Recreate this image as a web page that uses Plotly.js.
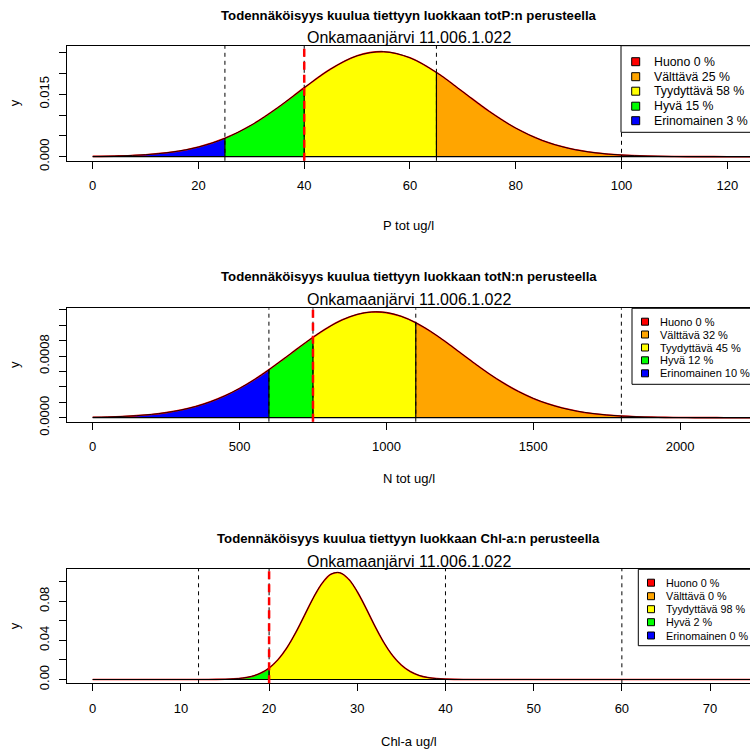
<!DOCTYPE html>
<html><head><meta charset="utf-8">
<script src="https://cdn.plot.ly/plotly-3.0.1.min.js"></script>
<style>body{margin:0;background:#fff}#c{width:750px;height:749px}</style>
</head><body><div id="c"></div>
<script>
// ---------- DATA ----------
const classNames = ["Huono", "Välttävä", "Tyydyttävä", "Hyvä", "Erinomainen"];
const lakeName = "Onkamaanjärvi 11.006.1.022";
const mainTitles = [
  "Todennäköisyys kuulua tiettyyn luokkaan totP:n perusteella",
  "Todennäköisyys kuulua tiettyyn luokkaan totN:n perusteella",
  "Todennäköisyys kuulua tiettyyn luokkaan Chl-a:n perusteella"
];
const xLabels = ["P tot ug/l", "N tot ug/l", "Chl-a ug/l"];
const yLabel = "y";

// totP density curve
const pX = [0,5,10,15,20,25,30,35,40,45,50,55,60,65,70,75,80,85,90,95,100,105,110,115,120,125];
const pY = [0.000066,0.000187,0.000479,0.00111,0.00233,0.00442,0.00759,0.01179,0.01657,0.02107,0.02425,0.02524,0.02377,0.02025,0.0156,0.01088,0.00687,0.00392,0.00202,0.000945,0.0004,0.000153,0.000053,0.0000165,0.000005,0.000001];
const pBounds = [25, 40, 65, 100];
const pObs = 40;
const pPct = [0, 25, 58, 15, 3];
const pXTicks = [0, 20, 40, 60, 80, 100, 120];
const pYTicks = [0, 0.005, 0.01, 0.015, 0.02, 0.025];
const pYTickText = ["0.000", "", "", "0.015", "", ""];

// totN density curve
const nX = [0,50,100,150,200,250,300,350,400,450,500,550,600,650,700,750,800,850,900,950,1000,1050,1100,1150,1200,1250,1300,1350,1400,1450,1500,1550,1600,1650,1700,1750,1800,1850,1900,1950,2000,2050,2100,2150,2200,2250];
const nY = [0.0000054,0.0000095,0.0000161,0.0000265,0.0000424,0.0000658,0.0000993,0.000145,0.000206,0.000284,0.000381,0.000494,0.000623,0.000763,0.000906,0.001045,0.00117,0.001272,0.001342,0.001374,0.001366,0.001318,0.001235,0.001123,0.000991,0.000849,0.000706,0.00057,0.000447,0.00034,0.000251,0.00018,0.000125,0.0000845,0.0000555,0.0000352,0.0000218,0.0000131,0.0000076,0.0000043,0.0000023,0.0000012,0.0000006,0.0000003,0.0000001,0.0000001];
const nBounds = [600, 750, 1100, 1800];
const nObs = 750;
const nPct = [0, 32, 45, 12, 10];
const nXTicks = [0, 500, 1000, 1500, 2000];
const nYTicks = [0, 0.0002, 0.0004, 0.0006, 0.0008, 0.001, 0.0012, 0.0014];
const nYTickText = ["0.0000", "", "", "", "0.0008", "", "", ""];

// Chl-a density curve
const cX = [0,5,10,12,13,14,15,16,17,18,19,20,21,22,23,24,25,26,27,28,29,30,31,32,33,34,35,36,37,38,39,40,41,42,43,44,45,50,55,60,65,70,75];
const cY = [0,0,0.0000008,0.00001,0.0000315,0.000092,0.000249,0.000626,0.00146,0.00315,0.0063,0.01171,0.02015,0.03217,0.04762,0.06539,0.08324,0.09827,0.1076,0.1092,0.1028,0.08976,0.07267,0.05455,0.03798,0.02451,0.01468,0.00814,0.00419,0.002,0.000886,0.000364,0.00014,0.0000485,0.0000155,0.0000045,0.0000012,0,0,0,0,0,0];
const cBounds = [12, 20, 40, 60];
const cObs = 20;
const cPct = [0, 0, 98, 2, 0];
const cXTicks = [0, 10, 20, 30, 40, 50, 60, 70];
const cYTicks = [0, 0.02, 0.04, 0.06, 0.08, 0.1];
const cYTickText = ["0.00", "", "0.04", "", "0.08", ""];

// ---------- STYLE / LAYOUT ----------
const classColors = ["#FF0000", "#FFA500", "#FFFF00", "#00FF00", "#0000FF"]; // Huono..Erinomainen
const W = 750, H = 749;
const FONT = "Liberation Sans, Arial, Helvetica, sans-serif";
const px = v => v / W;
const py = v => 1 - v / H;

const panels = [
  {X: pX, Y: pY, bounds: pBounds, obs: pObs, pct: pPct, xt: pXTicks, yt: pYTicks, ytt: pYTickText,
   top: 45.7, bottom: 160.8, xr: [-4.92, 124.3], yr: [-0.000986, 0.02668],
   titleY: 15, subY: 38, xlabY: 225,
   leg: {left: 621, top: 45.7, bottom: 132.3, sqX: 635.7, txtX: 651.5, items: [61.7, 76.7, 91.2, 106.2, 120.7], font: 12.3, sq: 8}},
  {X: nX, Y: nY, bounds: nBounds, obs: nObs, pct: nPct, xt: nXTicks, yt: nYTicks, ytt: nYTickText,
   top: 308.3, bottom: 421.7, xr: [-88.5, 2238], yr: [-0.000052, 0.001422],
   titleY: 276.5, subY: 300, xlabY: 478,
   leg: {left: 632, top: 308.3, bottom: 384.3, sqX: 645, txtX: 658.3, items: [321.7, 334.5, 347.5, 360.3, 373.3], font: 11, sq: 7}},
  {X: cX, Y: cY, bounds: cBounds, obs: cObs, pct: cPct, xt: cXTicks, yt: cYTicks, ytt: cYTickText,
   top: 569, bottom: 683.3, xr: [-2.95, 74.53], yr: [-0.00389, 0.11298],
   titleY: 538.3, subY: 561.5, xlabY: 741,
   leg: {left: 638.3, top: 569.3, bottom: 645.7, sqX: 651, txtX: 664.3, items: [582.7, 596.2, 609.2, 622.2, 635.5], font: 10.8, sq: 7}}
];

const traces = [];
const shapes = [];
const annotations = [];
const layout = {
  width: W, height: H, margin: {l: 0, r: 0, t: 0, b: 0},
  paper_bgcolor: "white", plot_bgcolor: "white", showlegend: false,
  font: {family: FONT, color: "black"}
};

panels.forEach((p, i) => {
  const sfx = i === 0 ? "" : String(i + 1);
  const xa = "x" + sfx, ya = "y" + sfx;
  layout["xaxis" + sfx] = {
    domain: [66.7 / W, 1], range: p.xr, anchor: ya, tickmode: "array", tickvals: p.xt,
    ticks: "outside", ticklen: 7, tickcolor: "black", tickwidth: 1,
    showline: true, mirror: true, linecolor: "black", linewidth: 1,
    showgrid: false, zeroline: false, tickfont: {size: 13, family: FONT, color: "black"},
    ticklabelstandoff: 6
  };
  layout["yaxis" + sfx] = {
    domain: [py(p.bottom), py(p.top)], range: p.yr, anchor: xa, tickmode: "array",
    tickvals: p.yt, ticktext: p.ytt, tickangle: -90,
    ticks: "outside", ticklen: 7, tickcolor: "black", tickwidth: 1,
    showline: true, mirror: true, linecolor: "black", linewidth: 1,
    showgrid: false, zeroline: false, tickfont: {size: 13, family: FONT, color: "black"},
    ticklabelstandoff: 5
  };

  // class regions (low -> high: Erinomainen, Hyvä, Tyydyttävä, Välttävä, Huono)
  const edges = [p.X[0], ...p.bounds, p.X[p.X.length - 1]];
  for (let k = 0; k < 5; k++) {
    const lo = edges[k], hi = edges[k + 1];
    const xs = [], ys = [];
    p.X.forEach((x, j) => { if (x >= lo && x <= hi) { xs.push(x); ys.push(p.Y[j]); } });
    traces.push({x: xs, y: ys, xaxis: xa, yaxis: ya, mode: "lines", fill: "tozeroy",
      fillcolor: classColors[4 - k], line: {width: 0, shape: "spline"}, hoverinfo: "skip"});
  }
  // curve outline: red under black
  traces.push({x: p.X, y: p.Y, xaxis: xa, yaxis: ya, mode: "lines",
    line: {color: "#FF0000", width: 1.6, shape: "spline"}, hoverinfo: "skip"});
  traces.push({x: p.X, y: p.Y, xaxis: xa, yaxis: ya, mode: "lines",
    line: {color: "black", width: 0.9, shape: "spline"}, hoverinfo: "skip"});

  // baseline of polygons
  shapes.push({type: "line", xref: xa, yref: ya, x0: p.X[0], x1: p.X[p.X.length - 1], y0: 0, y1: 0,
    line: {color: "black", width: 1.2}});
  // dashed class boundaries across full height
  p.bounds.forEach(b => {
    shapes.push({type: "line", xref: xa, yref: ya + " domain", x0: b, x1: b, y0: 0, y1: 1,
      line: {color: "black", width: 1, dash: "4px,4px"}});
    const yb = p.Y[p.X.indexOf(b)];
    shapes.push({type: "line", xref: xa, yref: ya, x0: b, x1: b, y0: 0, y1: yb,
      line: {color: "black", width: 1.2}});
  });
  // observed value (red dashed)
  shapes.push({type: "line", xref: xa, yref: ya + " domain", x0: p.obs, x1: p.obs, y0: 0, y1: 1,
    line: {color: "#FF0000", width: 2.5, dash: "8px,5px"}});

  // legend
  const L = p.leg;
  shapes.push({type: "rect", xref: "paper", yref: "paper", x0: px(L.left), x1: px(752),
    y0: py(L.bottom), y1: py(L.top), fillcolor: "white", line: {color: "black", width: 1}});
  classNames.forEach((nm, k) => {
    const cy = L.items[k];
    shapes.push({type: "rect", xref: "paper", yref: "paper",
      x0: px(L.sqX - L.sq / 2), x1: px(L.sqX + L.sq / 2), y0: py(cy + L.sq / 2), y1: py(cy - L.sq / 2),
      fillcolor: classColors[k], line: {color: "black", width: 1}});
    annotations.push({xref: "paper", yref: "paper", x: px(L.txtX), y: py(cy), xanchor: "left", yanchor: "middle",
      text: nm + " " + p.pct[k] + " %", showarrow: false, font: {size: L.font, family: FONT, color: "black"}});
  });

  // titles
  const cx = px((66.7 + 751) / 2);
  annotations.push({xref: "paper", yref: "paper", x: cx, y: py(p.titleY), xanchor: "center", yanchor: "middle",
    text: "<b>" + mainTitles[i] + "</b>", showarrow: false, font: {size: 13.2, family: FONT, color: "black"}});
  annotations.push({xref: "paper", yref: "paper", x: cx, y: py(p.subY), xanchor: "center", yanchor: "middle",
    text: lakeName, showarrow: false, font: {size: 16, family: FONT, color: "black"}});
  annotations.push({xref: "paper", yref: "paper", x: cx, y: py(p.xlabY), xanchor: "center", yanchor: "middle",
    text: xLabels[i], showarrow: false, font: {size: 13, family: FONT, color: "black"}});
  annotations.push({xref: "paper", yref: "paper", x: px(14), y: py((p.top + p.bottom) / 2), xanchor: "center", yanchor: "middle",
    text: yLabel, textangle: -90, showarrow: false, font: {size: 13, family: FONT, color: "black"}});
});

layout.shapes = shapes;
layout.annotations = annotations;
Plotly.newPlot("c", traces, layout, {staticPlot: true, displayModeBar: false});
</script></body></html>
